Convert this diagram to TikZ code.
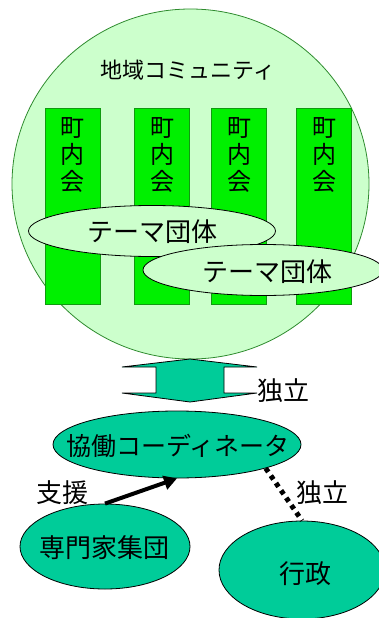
\documentclass[tikz,border=0pt]{standalone}
\usepackage{fontspec}
\setmainfont{Noto Sans CJK JP}
\usetikzlibrary{shapes.geometric,arrows.meta}
\definecolor{lightg}{HTML}{CCFFCC}
\definecolor{circb}{HTML}{2E8B2E}
\definecolor{limeg}{HTML}{00F000}
\definecolor{limeb}{HTML}{119911}
\definecolor{tealg}{HTML}{00CC99}
\begin{document}
\begin{tikzpicture}[x=1pt,y=-1pt,
  txt/.style={font=\fontsize{24}{27}\selectfont, inner sep=0pt, align=center},
  lbl/.style={font=\fontsize{26}{28}\selectfont, inner sep=0pt},
  chou/.style={draw=limeb, fill=limeg, line width=0.8pt, minimum width=55pt, minimum height=196pt, inner sep=0pt},
  theme/.style={ellipse, draw=black, fill=lightg, line width=0.8pt, inner sep=0pt},
  org/.style={ellipse, draw=black, fill=tealg, line width=0.8pt, inner sep=0pt}
]
\useasboundingbox (0,0) rectangle (379,618);
\clip (0,0) rectangle (379,618);

% community circle
\node[ellipse, draw=circb, fill=lightg, line width=0.8pt, minimum width=357pt, minimum height=350pt, inner sep=0pt] (comm) at (190.5,184) {};
\node[txt, font=\fontsize{22}{24}\selectfont] (title) at (188,70) {地域コミュニティ};

% neighbourhood associations
\node[chou] (c1) at (72.5,206) {};
\node[chou] (c2) at (162,206) {};
\node[chou] (c3) at (239,206) {};
\node[chou] (c4) at (324,206) {};
\node[txt] (t1) at (72.5,155) {町\\内\\会};
\node[txt] (t2) at (162,155) {町\\内\\会};
\node[txt] (t3) at (239,155) {町\\内\\会};
\node[txt] (t4) at (324,155) {町\\内\\会};

% theme groups
\node[theme, minimum width=247pt, minimum height=51pt] (th1) at (152,231) {};
\node[lbl] (th1t) at (152,232) {テーマ団体};
\node[theme, minimum width=240pt, minimum height=51pt] (th2) at (263,270) {};
\node[lbl] (th2t) at (267,272) {テーマ団体};

% double arrow
\draw[fill=tealg, draw=black, line width=0.8pt]
  (190,359) -- (257,367) -- (224,367) -- (224,393) -- (257,393) -- (190,402)
  -- (122,393) -- (156,393) -- (156,367) -- (122,367) -- cycle;
\node[lbl] (ind1) at (283,391) {独立};

% coordinator and others
\node[org, minimum width=248pt, minimum height=67pt] (coord) at (177,444.5) {};
\node[lbl, font=\fontsize{25}{27}\selectfont] (coordt) at (178,446) {協働コーディネータ};
\node[org, minimum width=170pt, minimum height=85pt] (expert) at (105,546.5) {};
\node[lbl] (expertt) at (104,548) {専門家集団};
\node[org, minimum width=166pt, minimum height=98pt] (gov) at (302,570) {};
\node[lbl] (govt) at (305,574) {行政};

\draw[line width=4pt, -{Triangle[length=13pt,width=14pt]}] (expert.north) -- (coord.south);
\node[lbl] (support) at (62,493) {支援};

\draw[line width=5pt, dash pattern=on 4.5pt off 4.5pt] (coord.-15.7) -- (gov.north);
\node[lbl] (ind2) at (322,493) {独立};
\end{tikzpicture}
\end{document}
